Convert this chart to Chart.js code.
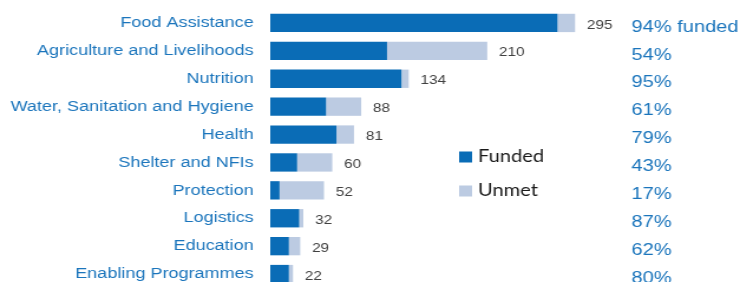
<!DOCTYPE html>
<html>
<head>
<meta charset="utf-8">
<script src="https://cdn.jsdelivr.net/npm/chart.js@4"></script>
<style>
  html, body { margin: 0; padding: 0; background: #fff; overflow: hidden; }
  /* source image is stretched sideways, so draw narrow and widen it */
  #wrap { width: 627px; height: 288px; transform: scaleX(1.1802); transform-origin: 0 0; }
</style>
</head>
<body>
<div id="wrap"><canvas id="chart" width="627" height="288"></canvas></div>
<script>
// ── DATA ──────────────────────────────────
const categories = [
  'Food Assistance', 'Agriculture and Livelihoods', 'Nutrition',
  'Water, Sanitation and Hygiene', 'Health', 'Shelter and NFIs',
  'Protection', 'Logistics', 'Education', 'Enabling Programmes'
];
const funded = [278, 113, 127, 54, 64, 26, 9, 28, 18, 18];
const unmet = [17, 97, 7, 34, 17, 34, 43, 4, 11, 4];
const totals = [295, 210, 134, 88, 81, 60, 52, 32, 29, 22];
const pctLabels = ['94% funded', '54%', '95%', '61%', '79%', '43%', '17%', '87%', '62%', '80%'];

const BLUE = '#0a6cb6';
const LIGHT = '#bccbe2';
const TEXT_BLUE = '#1b75bc';

// ── LABELS PLUGIN ─────────────────────────
const sideLabels = {
  id: 'sideLabels',
  afterDatasetsDraw(chart) {
    const { ctx, scales: { x, y } } = chart;
    ctx.save();
    ctx.textBaseline = 'middle';
    totals.forEach((t, i) => {
      const cy = y.getPixelForValue(i);
      ctx.font = '13px "Liberation Sans", Arial, sans-serif';
      ctx.fillStyle = '#404040';
      ctx.textAlign = 'left';
      ctx.fillText(String(t), x.getPixelForValue(t) + 10, cy + 2);

      ctx.font = '17px "Liberation Sans", Arial, sans-serif';
      ctx.fillStyle = TEXT_BLUE;
      ctx.fillText(pctLabels[i], 535, cy + 4);
    });

    // legend sitting inside the plot
    const items = [['Funded', BLUE, 157], ['Unmet', LIGHT, 191]];
    ctx.font = '17px Lato, "Noto Sans", sans-serif';
    items.forEach(([name, col, ly]) => {
      ctx.fillStyle = col;
      ctx.fillRect(389, ly - 5.5, 11, 11);
      ctx.fillStyle = '#1a1a1a';
      ctx.fillText(name, 405, ly);
    });
    ctx.restore();
  }
};

new Chart(document.getElementById('chart'), {
  type: 'bar',
  data: {
    labels: categories,
    datasets: [
      { label: 'Funded', data: funded, backgroundColor: BLUE, barPercentage: 0.657, categoryPercentage: 1 },
      { label: 'Unmet', data: unmet, backgroundColor: LIGHT, barPercentage: 0.657, categoryPercentage: 1 }
    ]
  },
  options: {
    indexAxis: 'y',
    responsive: false,
    maintainAspectRatio: false,
    animation: false,
    layout: { padding: { top: 9, right: 4, bottom: 0, left: 0 } },
    plugins: {
      legend: { display: false },
      tooltip: { enabled: false }
    },
    scales: {
      x: {
        stacked: true,
        display: false,
        min: 0,
        max: 450
      },
      y: {
        stacked: true,
        grid: { display: false, drawTicks: false },
        border: { display: false },
        ticks: {
          color: TEXT_BLUE,
          padding: 14,
          font: { family: '"Liberation Sans", Arial, sans-serif', size: 15.3 }
        },
        afterFit(scale) {
          scale.width = 229;
          scale.paddingTop = 0;
          scale.paddingBottom = 0;
        }
      }
    }
  },
  plugins: [sideLabels]
});
</script>
</body>
</html>
